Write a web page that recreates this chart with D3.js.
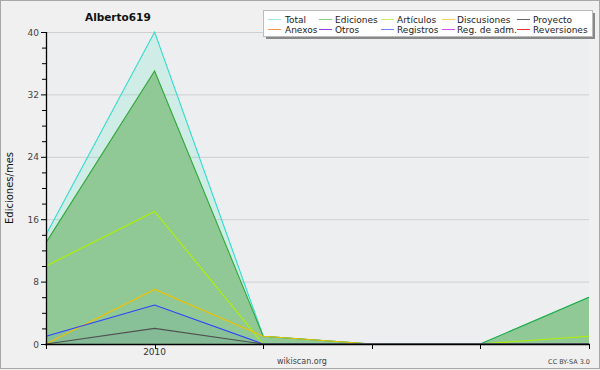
<!DOCTYPE html>
<html><head><meta charset="utf-8">
<script src="https://cdn.jsdelivr.net/npm/d3@7/dist/d3.min.js"></script>
<style>body{margin:0;background:#f0f0f0}svg{display:block}text{font-family:"DejaVu Sans",sans-serif}</style>
</head><body><svg id="c" width="600" height="370"></svg>
<script>
const xLabels = ["", "2010", "", "", "", ""];
const total = [14, 40, 1, 0, 0, 6];
const ediciones = [13, 35, 1, 0, 0, 6];
const articulos = [10, 17, 0, 0, 0, 1];
const discusiones = [0, 7, 1, 0, 0, 0];
const proyecto = [0, 2, 0, 0, 0, 0];
const registros = [1, 5, 0, 0, 0, 0];
const yTicks = [0, 8, 16, 24, 32, 40];
const legendNames = ["Total", "Ediciones", "Artículos", "Discusiones", "Proyecto", "Anexos", "Otros", "Registros", "Reg. de adm.", "Reversiones"];
const legendColors = ["#9ee6e0", "#7fcf85", "#c8f060", "#f5d050", "#666666", "#f09050", "#9040e0", "#7080ff", "#d050f0", "#f03030"];

const svg = d3.select("#c");
const x = d3.scaleLinear().domain([0, xLabels.length - 1]).range([46, 589]);
const y = d3.scaleLinear().domain([0, 40]).range([344, 32]);

svg.append("rect").attr("x", 0.5).attr("y", 0.5).attr("width", 599).attr("height", 368)
  .attr("fill", "#f0f0f0").attr("stroke", "#a8a8a8");
svg.append("rect").attr("x", 46).attr("y", 32).attr("width", 543).attr("height", 312).attr("fill", "#edeef0");

// grid
svg.append("g").selectAll("line").data(yTicks.filter(d => d > 0)).join("line")
  .attr("x1", 46).attr("x2", 589).attr("y1", d => y(d) + 0.5).attr("y2", d => y(d) + 0.5)
  .attr("stroke", "#cfcfcf");

const idx = d3.range(xLabels.length);
const area = vals => d3.area().x(i => x(i)).y0(y(0)).y1(i => y(vals[i]))(idx);
const line = vals => d3.line().x(i => x(i)).y(i => y(vals[i]))(idx);

svg.append("path").attr("d", area(total)).attr("fill", "#40e0c0").attr("fill-opacity", 0.17);
svg.append("path").attr("d", area(ediciones)).attr("fill", "#90c995");
svg.append("path").attr("d", area(registros)).attr("fill", "#3050c0").attr("fill-opacity", 0.07);
svg.append("path").attr("d", area(proyecto)).attr("fill", "#304060").attr("fill-opacity", 0.04);

const series = [
  [total, "#30dccc"], [ediciones, "#30a838"], [articulos, "#b0f000"],
  [discusiones, "#f0c000"], [registros, "#3040ff"], [proyecto, "#505050"]
];
series.forEach(([v, c]) => {
  svg.append("path").attr("d", line(v)).attr("fill", "none").attr("stroke", c).attr("stroke-width", 1.1);
});

// axes
const ya = svg.append("g").attr("transform", "translate(46,0)");
ya.append("line").attr("x1", 0.5).attr("x2", 0.5).attr("y1", y(40)).attr("y2", y(0) + 1).attr("stroke", "#000").attr("stroke-width", 1.3);
ya.selectAll("line.m").data(d3.range(0, 41, 2)).join("line").attr("class", "m")
  .attr("x1", d => d % 8 === 0 ? -5 : -4).attr("x2", 0).attr("y1", d => y(d) + 0.5).attr("y2", d => y(d) + 0.5)
  .attr("stroke", "#000");
ya.selectAll("text").data(yTicks).join("text")
  .attr("x", -7).attr("y", d => y(d) + 3.5).attr("text-anchor", "end")
  .attr("font-size", 9).attr("fill", "#444").text(d => d);

const xa = svg.append("g");
xa.append("line").attr("x1", 45).attr("x2", 590).attr("y1", y(0) + 0.5).attr("y2", y(0) + 0.5).attr("stroke", "#000").attr("stroke-width", 1.5);
xa.selectAll("line.t").data(idx).join("line").attr("class", "t")
  .attr("x1", i => Math.round(x(i)) + 0.5).attr("x2", i => Math.round(x(i)) + 0.5).attr("y1", y(0)).attr("y2", y(0) + 5).attr("stroke", "#000");
xa.selectAll("text").data(idx).join("text")
  .attr("x", i => x(i)).attr("y", 355).attr("text-anchor", "middle").attr("font-size", 9).attr("fill", "#333")
  .text(i => xLabels[i]);

svg.append("text").attr("transform", "translate(13,188) rotate(-90)").attr("text-anchor", "middle")
  .attr("font-family", "DejaVu Sans Mono").attr("font-size", 10).attr("fill", "#111").text("Ediciones/mes");

svg.append("text").attr("x", 85).attr("y", 21).attr("font-size", 10.5).attr("font-weight", "bold").attr("fill", "#111").text("Alberto619");
svg.append("text").attr("x", 302).attr("y", 364).attr("text-anchor", "middle").attr("font-size", 8).attr("fill", "#444").text("wikiscan.org");
svg.append("text").attr("x", 590).attr("y", 364).attr("text-anchor", "end").attr("font-size", 6.5).attr("fill", "#444").text("CC BY-SA 3.0");

// legend
const lg = svg.append("g");
lg.append("rect").attr("x", 266).attr("y", 13).attr("width", 329).attr("height", 26).attr("fill", "#888");
lg.append("rect").attr("x", 263.5).attr("y", 10.5).attr("width", 329).attr("height", 26).attr("fill", "#fff").attr("stroke", "#bbb");
const colX = [268, 319, 381, 442, 517];
const colT = [285, 335, 397, 457, 533];
legendNames.forEach((n, k) => {
  const c = k % 5, r = Math.floor(k / 5);
  const yy = 19 + r * 10;
  lg.append("line").attr("x1", colX[c]).attr("x2", colX[c] + 13).attr("y1", yy + 0.5).attr("y2", yy + 0.5).attr("stroke", legendColors[k]);
  lg.append("text").attr("x", colT[c]).attr("y", yy + 3.5).attr("font-size", 9).attr("fill", "#222").text(n);
});
</script></body></html>
